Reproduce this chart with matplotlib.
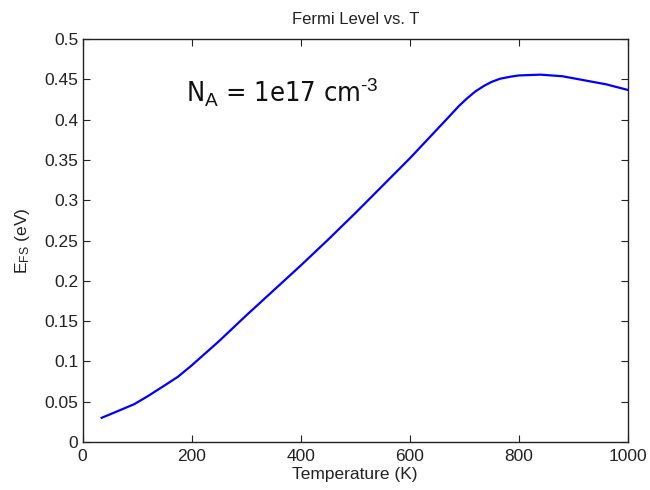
import numpy as np
import matplotlib
matplotlib.use("Agg")
import matplotlib.pyplot as plt

# Fermi level vs temperature, N_A = 1e17 cm^-3
temperature = [35, 60, 95, 120, 150, 175, 200, 250, 300, 350, 400, 450,
               500, 550, 600, 650, 675, 690, 705, 720, 736, 750, 766, 785,
               800, 840, 880, 920, 960, 1000]
e_fs = [0.030, 0.037, 0.047, 0.057, 0.070, 0.081, 0.095, 0.125, 0.157,
        0.188, 0.219, 0.251, 0.284, 0.318, 0.352, 0.388, 0.406, 0.417,
        0.4265, 0.435, 0.442, 0.447, 0.451, 0.4535, 0.455, 0.456, 0.454,
        0.449, 0.444, 0.437]

xticks = [0, 200, 400, 600, 800, 1000]
yticks = [0, 0.05, 0.1, 0.15, 0.2, 0.25, 0.3, 0.35, 0.4, 0.45, 0.5]
ytick_labels = ["0", "0.05", "0.1", "0.15", "0.2", "0.25", "0.3", "0.35",
                "0.4", "0.45", "0.5"]

plt.rcParams["font.family"] = ["Liberation Sans", "DejaVu Sans"]
plt.rcParams["mathtext.fontset"] = "custom"
plt.rcParams["mathtext.rm"] = "Liberation Sans"
plt.rcParams["mathtext.it"] = "Liberation Sans"

fig = plt.figure(figsize=(6.5, 4.9), dpi=100)
ax = fig.add_axes([0.127, 0.098, 0.839, 0.822])

ax.plot(temperature, e_fs, color=(0, 0, 1), lw=1.6)

ax.set_xlim(0, 1000)
ax.set_ylim(0, 0.5)
ax.set_xticks(xticks)
ax.set_yticks(yticks)
ax.set_yticklabels(ytick_labels)
ax.tick_params(direction="in", top=True, right=True, length=5, width=0.8,
               labelsize=12.5, colors="#222222", pad=3)
ax.tick_params(axis="x", pad=5)
for s in ax.spines.values():
    s.set_linewidth(1.0)
    s.set_color("#222222")

ax.set_title("Fermi Level vs. T", fontsize=12, pad=11, color="#222222")
ax.set_xlabel("Temperature (K)", fontsize=12.5, labelpad=2, color="#222222")
ax.set_ylabel(r"E$_{\mathrm{FS}}$ (eV)", fontsize=12.5, labelpad=9,
              color="#222222")

# narrow face for the doping label
ax.text(190, 0.422, "N$_{\\mathrm{A}}$ = 1e17 cm$^{\\mathrm{‐3}}$",
        fontsize=19.5, color="#111111", family="DejaVu Sans",
        fontstretch="condensed")

fig.savefig("out.png", dpi=100)
